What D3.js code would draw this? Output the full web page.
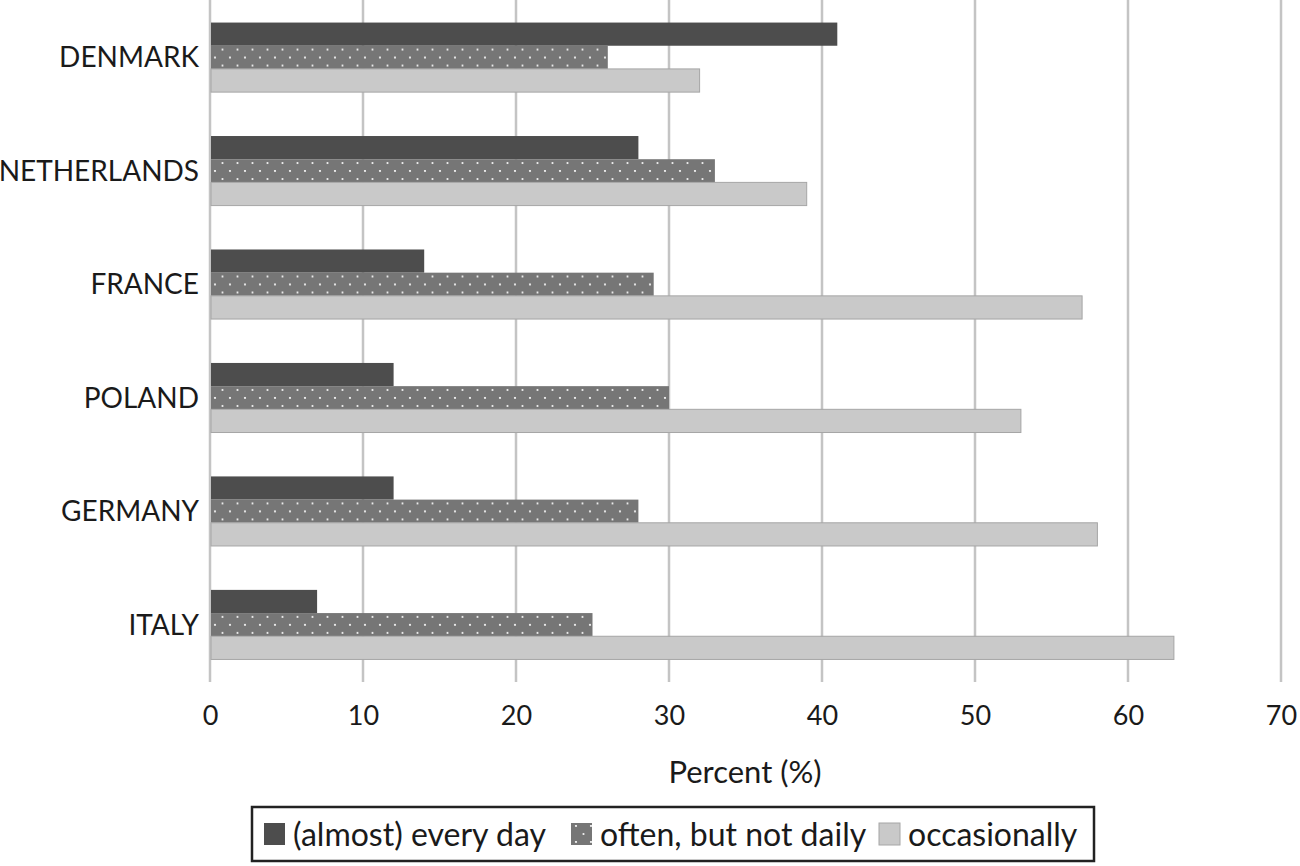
<!DOCTYPE html>
<html>
<head>
<meta charset="utf-8">
<script src="https://cdn.jsdelivr.net/npm/d3@7"></script>
<style>
  html, body { margin: 0; padding: 0; background: #fff; }
  svg { display: block; }
  text { font-family: Lato, "Open Sans", sans-serif; fill: #1a1a1a; }
</style>
</head>
<body>
<svg id="chart" width="1300" height="866"></svg>
<script>
const countries = ["DENMARK", "NETHERLANDS", "FRANCE", "POLAND", "GERMANY", "ITALY"];
const seriesNames = ["(almost) every day", "often, but not daily", "occasionally"];
const everyDay = [41, 28, 14, 12, 12, 7];
const oftenNotDaily = [26, 33, 29, 30, 28, 25];
const occasionally = [32, 39, 57, 53, 58, 63];
const xTicks = [0, 10, 20, 30, 40, 50, 60, 70];
const axisTitle = "Percent (%)";

const seriesValues = [everyDay, oftenNotDaily, occasionally];
const fills = ["#4d4d4d", "url(#dots)", "#c9c9c9"];
const strokes = ["none", "none", "#a6a6a6"];

const svg = d3.select("#chart");
const defs = svg.append("defs");
const pat = defs.append("pattern").attr("id", "dots")
  .attr("patternUnits", "userSpaceOnUse")
  .attr("width", 15).attr("height", 16).attr("x", 0).attr("y", 2);
pat.append("rect").attr("width", 15).attr("height", 16).attr("fill", "#767676");
pat.append("circle").attr("cx", 5).attr("cy", 1).attr("r", 1.1).attr("fill", "#f2f2f2");
pat.append("circle").attr("cx", 12.5).attr("cy", 9).attr("r", 1.1).attr("fill", "#f2f2f2");

const x = d3.scaleLinear().domain([0, 70]).range([210, 1281]);
const y = d3.scaleBand().domain(countries).range([1, 681]).paddingInner(0.387).paddingOuter(0.19);
const ySub = d3.scaleBand().domain(d3.range(3)).range([0, y.bandwidth()]);

// gridlines
svg.append("g").selectAll("line").data(xTicks).join("line")
  .attr("x1", d => x(d)).attr("x2", d => x(d))
  .attr("y1", 0).attr("y2", 682)
  .attr("stroke", "#c4c4c4").attr("stroke-width", 2.5);

// bars
const groups = svg.append("g").selectAll("g").data(countries).join("g")
  .attr("transform", d => `translate(0,${y(d)})`);
groups.selectAll("rect").data((c, i) => seriesValues.map((s, k) => ({k, v: s[i]}))).join("rect")
  .attr("x", x(0) + 1)
  .attr("y", d => ySub(d.k))
  .attr("width", d => x(d.v) - x(0) - 1)
  .attr("height", ySub.bandwidth())
  .attr("fill", d => fills[d.k])
  .attr("stroke", d => strokes[d.k])
  .attr("stroke-width", 1);

// category labels
svg.append("g").selectAll("text").data(countries).join("text")
  .attr("x", 199).attr("y", d => y(d) + y.bandwidth() / 2)
  .attr("text-anchor", "end").attr("dy", "0.36em")
  .style("font-size", "28px")
  .text(d => d);

// x axis labels
const xAxis = d3.axisBottom(x).tickValues(xTicks).tickSize(0).tickPadding(0);
const ax = svg.append("g").attr("transform", "translate(0,706)").call(xAxis);
ax.select(".domain").remove();
ax.selectAll("text").style("font-size", "27px").attr("dy", "0.71em").style("fill", "#1a1a1a")
  .style("font-family", "Lato, 'Open Sans', sans-serif");

svg.append("text").attr("x", 745).attr("y", 783).attr("text-anchor", "middle")
  .style("font-size", "31px").text(axisTitle);

// legend
svg.append("rect").attr("x", 252).attr("y", 807).attr("width", 842).attr("height", 54)
  .attr("fill", "#fff").attr("stroke", "#222").attr("stroke-width", 2.5);
const legX = [264, 571, 879];
const leg = svg.append("g").selectAll("g").data(seriesNames).join("g")
  .attr("transform", (d, i) => `translate(${legX[i]},823)`);
leg.append("rect").attr("width", 21).attr("height", 22)
  .attr("fill", (d, i) => fills[i]).attr("stroke", (d, i) => strokes[i]);
leg.append("text").attr("x", 29).attr("y", 11).attr("dy", "0.36em")
  .style("font-size", "32px").text(d => d);
</script>
</body>
</html>
